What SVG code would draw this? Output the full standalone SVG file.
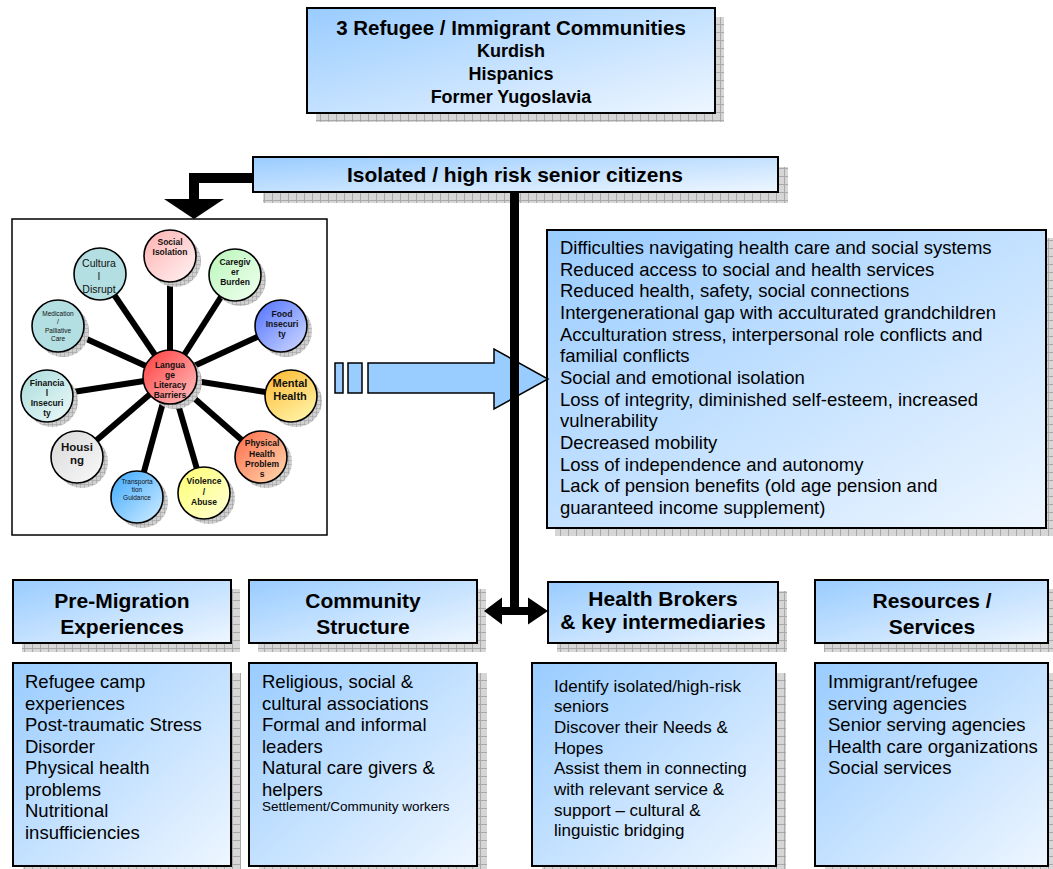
<svg xmlns="http://www.w3.org/2000/svg" width="1053" height="869" viewBox="0 0 1053 869">
<defs>
<style>
.box{stroke:#000;stroke-width:2;fill:url(#bg)}
.sh{fill:url(#grid)}
.t{font-family:"Liberation Sans",Arial,sans-serif;fill:#000}
.b{font-weight:bold}
.hd{font-size:21px;font-weight:bold;text-anchor:middle}
.body{font-size:18.5px}
.c{stroke:#000;stroke-width:1.6}
.cs{fill:url(#gridS)}
.ct{font-family:"Liberation Sans",Arial,sans-serif;fill:#111;text-anchor:middle}
.spoke{stroke:#000;stroke-width:6}
</style>
<linearGradient id="bg" x1="0" y1="0" x2="1" y2="1"><stop offset="0" stop-color="#99ccff"/><stop offset="1" stop-color="#eef6ff"/></linearGradient>
<pattern id="grid" width="8" height="8" patternUnits="userSpaceOnUse"><rect width="8" height="8" fill="#d6d6d6"/><path d="M0 0.5H8M0.5 0V8" stroke="#a9a9a9" stroke-width="1"/></pattern>
<pattern id="gridS" width="4" height="4" patternUnits="userSpaceOnUse"><rect width="4" height="4" fill="#d0d0d0"/><path d="M0 0.5H4M0.5 0V4" stroke="#a0a0a0" stroke-width="0.6"/></pattern>
<linearGradient id="gRed" x1="0" y1="0" x2="1" y2="1"><stop offset="0" stop-color="#ff3b3b"/><stop offset="1" stop-color="#ffc4c4"/></linearGradient>
<linearGradient id="gPink" x1="0" y1="0" x2="1" y2="1"><stop offset="0" stop-color="#ffb0b0"/><stop offset="1" stop-color="#fff4f4"/></linearGradient>
<linearGradient id="gGreen" x1="0" y1="0" x2="1" y2="1"><stop offset="0" stop-color="#b8f7b8"/><stop offset="1" stop-color="#f2fff2"/></linearGradient>
<linearGradient id="gBlue" x1="0" y1="0" x2="1" y2="1"><stop offset="0" stop-color="#4f6fff"/><stop offset="1" stop-color="#d2dcff"/></linearGradient>
<linearGradient id="gOrange" x1="0" y1="0" x2="0.6" y2="1"><stop offset="0" stop-color="#ffb62e"/><stop offset="1" stop-color="#fff0a0"/></linearGradient>
<linearGradient id="gSalmon" x1="0" y1="0" x2="1" y2="1"><stop offset="0" stop-color="#ff6a4a"/><stop offset="1" stop-color="#ffdcb0"/></linearGradient>
<linearGradient id="gYellow" x1="0" y1="0" x2="1" y2="1"><stop offset="0" stop-color="#ffff70"/><stop offset="1" stop-color="#ffffd8"/></linearGradient>
<linearGradient id="gSky" x1="0" y1="0" x2="1" y2="1"><stop offset="0" stop-color="#3aa8ff"/><stop offset="1" stop-color="#d4eeff"/></linearGradient>
<linearGradient id="gGray" x1="0" y1="0" x2="1" y2="1"><stop offset="0" stop-color="#d8d8d8"/><stop offset="1" stop-color="#fafafa"/></linearGradient>
<linearGradient id="gTeal" x1="0" y1="0" x2="1" y2="1"><stop offset="0" stop-color="#a8dcdc"/><stop offset="1" stop-color="#eef9f9"/></linearGradient>
<clipPath id="clL"><circle cx="170" cy="377" r="26"/></clipPath>
<clipPath id="clP"><circle cx="261" cy="457" r="25"/></clipPath>
<clipPath id="clF"><circle cx="47" cy="396" r="25"/></clipPath>
<clipPath id="clC"><circle cx="100" cy="274" r="25"/></clipPath>
</defs>
<rect width="1053" height="869" fill="#fff"/>

<!-- top box -->
<g id="communities">
<rect class="sh" x="316" y="17" width="408" height="105"/>
<rect class="box" x="307" y="8" width="408" height="105"/>
<text class="t b" x="511" y="35" font-size="20.5" text-anchor="middle">3 Refugee / Immigrant Communities</text>
<text class="t b" x="511" y="57" font-size="18" text-anchor="middle">Kurdish</text>
<text class="t b" x="511" y="80" font-size="18" text-anchor="middle">Hispanics</text>
<text class="t b" x="511" y="103" font-size="18" text-anchor="middle">Former Yugoslavia</text>
</g>

<!-- isolated bar -->
<g id="isolated">
<rect class="sh" x="263" y="167" width="525" height="36"/>
<rect class="box" x="253" y="157" width="525" height="35"/>
<text class="t b" x="515" y="182" font-size="21" text-anchor="middle">Isolated / high risk senior citizens</text>
</g>

<!-- wheel -->
<g id="wheel">
<rect x="12" y="219" width="315" height="316" fill="#fff" stroke="#000" stroke-width="1.5"/>
<g id="spokes">
<line class="spoke" x1="170" y1="377" x2="170" y2="256"/>
<line class="spoke" x1="170" y1="377" x2="235" y2="275"/>
<line class="spoke" x1="170" y1="377" x2="281" y2="326"/>
<line class="spoke" x1="170" y1="377" x2="291" y2="396"/>
<line class="spoke" x1="170" y1="377" x2="261" y2="457"/>
<line class="spoke" x1="170" y1="377" x2="204" y2="493"/>
<line class="spoke" x1="170" y1="377" x2="137" y2="497"/>
<line class="spoke" x1="170" y1="377" x2="77" y2="457"/>
<line class="spoke" x1="170" y1="377" x2="47" y2="396"/>
<line class="spoke" x1="170" y1="377" x2="58" y2="326"/>
<line class="spoke" x1="170" y1="377" x2="100" y2="274"/>
</g>
<g id="social-isolation"><circle class="cs" cx="175" cy="261" r="26"/><circle class="c" cx="170" cy="256" r="26" fill="url(#gPink)"/>
<text class="ct b" font-size="8.5"><tspan x="170" y="245">Social</tspan><tspan x="170" y="255">Isolation</tspan></text></g>
<g id="caregiver-burden"><circle class="cs" cx="240" cy="280" r="26"/><circle class="c" cx="235" cy="275" r="26" fill="url(#gGreen)"/>
<text class="ct b" font-size="8.5"><tspan x="235" y="265">Caregiv</tspan><tspan x="235" y="275">er</tspan><tspan x="235" y="285">Burden</tspan></text></g>
<g id="food-insecurity"><circle class="cs" cx="286" cy="331" r="26"/><circle class="c" cx="281" cy="326" r="26" fill="url(#gBlue)"/>
<text class="ct b" font-size="8.5"><tspan x="282" y="317">Food</tspan><tspan x="282" y="327">Insecuri</tspan><tspan x="282" y="337">ty</tspan></text></g>
<g id="mental-health"><circle class="cs" cx="296" cy="401" r="26"/><circle class="c" cx="291" cy="396" r="26" fill="url(#gOrange)"/>
<text class="ct b" font-size="11"><tspan x="290" y="387">Mental</tspan><tspan x="290" y="400">Health</tspan></text></g>
<g id="physical-health"><circle class="cs" cx="266" cy="462" r="26"/><circle class="c" cx="261" cy="457" r="26" fill="url(#gSalmon)"/>
<text class="ct b" font-size="8.5" clip-path="url(#clP)"><tspan x="262" y="446">Physical</tspan><tspan x="262" y="457">Health</tspan><tspan x="262" y="467">Problem</tspan><tspan x="262" y="477">s</tspan></text></g>
<g id="violence-abuse"><circle class="cs" cx="209" cy="498" r="26"/><circle class="c" cx="204" cy="493" r="26" fill="url(#gYellow)"/>
<text class="ct b" font-size="8.5"><tspan x="204" y="484">Violence</tspan><tspan x="204" y="495">/</tspan><tspan x="204" y="505">Abuse</tspan></text></g>
<g id="transportation"><circle class="cs" cx="142" cy="502" r="26"/><circle class="c" cx="137" cy="497" r="26" fill="url(#gSky)"/>
<text class="ct" font-size="6.5"><tspan x="137" y="484">Transporta</tspan><tspan x="137" y="492">tion</tspan><tspan x="137" y="500">Guidance</tspan></text></g>
<g id="housing"><circle class="cs" cx="82" cy="462" r="26"/><circle class="c" cx="77" cy="457" r="26" fill="url(#gGray)"/>
<text class="ct b" font-size="11.5"><tspan x="77" y="451">Housi</tspan><tspan x="77" y="464">ng</tspan></text></g>
<g id="financial-insecurity"><circle class="cs" cx="52" cy="401" r="26"/><circle class="c" cx="47" cy="396" r="26" fill="url(#gTeal)"/>
<text class="ct b" font-size="8.5" clip-path="url(#clF)"><tspan x="47" y="386">Financia</tspan><tspan x="47" y="396">l</tspan><tspan x="47" y="406">Insecuri</tspan><tspan x="47" y="416">ty</tspan></text></g>
<g id="medication"><circle class="cs" cx="63" cy="331" r="26"/><circle class="c" cx="58" cy="326" r="26" fill="#b3dfe2"/>
<text class="ct" font-size="6.5"><tspan x="58" y="316">Medication</tspan><tspan x="58" y="324">/</tspan><tspan x="58" y="333">Palliative</tspan><tspan x="58" y="341">Care</tspan></text></g>
<g id="cultural-disrupt"><circle class="c" cx="100" cy="274" r="26" fill="#b3dfe2"/>
<text class="ct" font-size="10.5" clip-path="url(#clC)"><tspan x="99" y="267">Cultura</tspan><tspan x="99" y="280">l</tspan><tspan x="99" y="293">Disrupt</tspan></text></g>
<g id="language-barriers"><circle class="cs" cx="175" cy="382" r="27"/><circle class="c" cx="170" cy="377" r="27" fill="url(#gRed)"/>
<text class="ct b" font-size="8.5" clip-path="url(#clL)"><tspan x="170" y="368">Langua</tspan><tspan x="170" y="378">ge</tspan><tspan x="170" y="388">Literacy</tspan><tspan x="170" y="398">Barriers</tspan></text></g>
</g>

<!-- big right box -->
<g id="consequences">
<rect class="sh" x="555" y="238" width="499" height="298"/>
<rect class="box" x="547" y="230" width="499" height="298"/>
<text class="t body">
<tspan x="560" y="254">Difficulties navigating health care and social systems</tspan>
<tspan x="560" y="275.7">Reduced access to social and health services</tspan>
<tspan x="560" y="297.3">Reduced health, safety, social connections</tspan>
<tspan x="560" y="319">Intergenerational gap with acculturated grandchildren</tspan>
<tspan x="560" y="340.6">Acculturation stress, interpersonal role conflicts and</tspan>
<tspan x="560" y="362.3">familial conflicts</tspan>
<tspan x="560" y="384">Social and emotional isolation</tspan>
<tspan x="560" y="405.6">Loss of integrity, diminished self-esteem, increased</tspan>
<tspan x="560" y="427.3">vulnerability</tspan>
<tspan x="560" y="449">Decreased mobility</tspan>
<tspan x="560" y="470.6">Loss of independence and autonomy</tspan>
<tspan x="560" y="492.3">Lack of pension benefits (old age pension and</tspan>
<tspan x="560" y="514">guaranteed income supplement)</tspan>
</text>
</g>

<!-- bottom headers -->
<g id="pre-migration-header">
<rect class="sh" x="22" y="589" width="218" height="63"/>
<rect class="box" x="13" y="580" width="218" height="63"/>
<text class="t hd"><tspan x="122" y="608">Pre-Migration</tspan><tspan x="122" y="634">Experiences</tspan></text>
</g>
<g id="community-header">
<rect class="sh" x="258" y="589" width="228" height="63"/>
<rect class="box" x="249" y="580" width="228" height="63"/>
<text class="t hd"><tspan x="363" y="608">Community</tspan><tspan x="363" y="634">Structure</tspan></text>
</g>
<g id="brokers-header">
<rect class="sh" x="557" y="591" width="230" height="61"/>
<rect class="box" x="548" y="582" width="230" height="61"/>
<text class="t hd" font-size="20"><tspan x="663" y="606">Health Brokers</tspan><tspan x="663" y="629">&amp; key intermediaries</tspan></text>
</g>
<g id="resources-header">
<rect class="sh" x="824" y="589" width="235" height="63"/>
<rect class="box" x="815" y="580" width="233" height="63"/>
<text class="t hd"><tspan x="932" y="608">Resources /</tspan><tspan x="932" y="634">Services</tspan></text>
</g>

<!-- bottom content -->
<g id="pre-migration">
<rect class="sh" x="23" y="673" width="218" height="210"/>
<rect class="box" x="13" y="663" width="218" height="203"/>
<text class="t body">
<tspan x="25" y="688">Refugee camp</tspan>
<tspan x="25" y="709.5">experiences</tspan>
<tspan x="25" y="731">Post-traumatic Stress</tspan>
<tspan x="25" y="752.5">Disorder</tspan>
<tspan x="25" y="774">Physical health</tspan>
<tspan x="25" y="795.5">problems</tspan>
<tspan x="25" y="817">Nutritional</tspan>
<tspan x="25" y="838.5">insufficiencies</tspan>
</text>
</g>
<g id="community">
<rect class="sh" x="259" y="673" width="228" height="210"/>
<rect class="box" x="249" y="663" width="228" height="203"/>
<text class="t body">
<tspan x="262" y="688">Religious, social &amp;</tspan>
<tspan x="262" y="709.5">cultural associations</tspan>
<tspan x="262" y="731">Formal and informal</tspan>
<tspan x="262" y="752.5">leaders</tspan>
<tspan x="262" y="774">Natural care givers &amp;</tspan>
<tspan x="262" y="795.5">helpers</tspan>
</text>
<text class="t" x="262" y="811" font-size="13.5">Settlement/Community workers</text>
</g>
<g id="brokers">
<rect class="sh" x="542" y="673" width="244" height="210"/>
<rect class="box" x="532" y="663" width="244" height="203"/>
<text class="t" font-size="17">
<tspan x="554" y="691.5">Identify isolated/high-risk</tspan>
<tspan x="554" y="712.2">seniors</tspan>
<tspan x="554" y="732.9">Discover their Needs &amp;</tspan>
<tspan x="554" y="753.6">Hopes</tspan>
<tspan x="554" y="774.3">Assist them in connecting</tspan>
<tspan x="554" y="795">with relevant service &amp;</tspan>
<tspan x="554" y="815.7">support – cultural &amp;</tspan>
<tspan x="554" y="836.4">linguistic bridging</tspan>
</text>
</g>
<g id="resources">
<rect class="sh" x="825" y="673" width="235" height="210"/>
<rect class="box" x="815" y="663" width="233" height="203"/>
<text class="t body">
<tspan x="828" y="688">Immigrant/refugee</tspan>
<tspan x="828" y="709.5">serving agencies</tspan>
<tspan x="828" y="731">Senior serving agencies</tspan>
<tspan x="828" y="752.5">Health care organizations</tspan>
<tspan x="828" y="774">Social services</tspan>
</text>
</g>

<!-- connectors -->
<g id="connectors">
<path d="M335 363h8v30h-8z" fill="#99ccff" stroke="#000" stroke-width="1.5"/>
<path d="M348 363h14v30h-14z" fill="#99ccff" stroke="#000" stroke-width="1.5"/>
<path d="M368 363H494V349L548 379L494 409V393H368Z" fill="#99ccff" stroke="#000" stroke-width="1.5" stroke-linejoin="miter"/>
<path d="M253 178H194V201" fill="none" stroke="#000" stroke-width="10"/>
<path d="M164 199H224L194 219Z" fill="#000"/>
<line x1="514.5" y1="192" x2="514.5" y2="614" stroke="#000" stroke-width="9"/>
<path d="M484 611L502 597.5V607H528V597.5L548 611L528 624.5V615H502V624.5Z" fill="#000"/>
</g>
</svg>
